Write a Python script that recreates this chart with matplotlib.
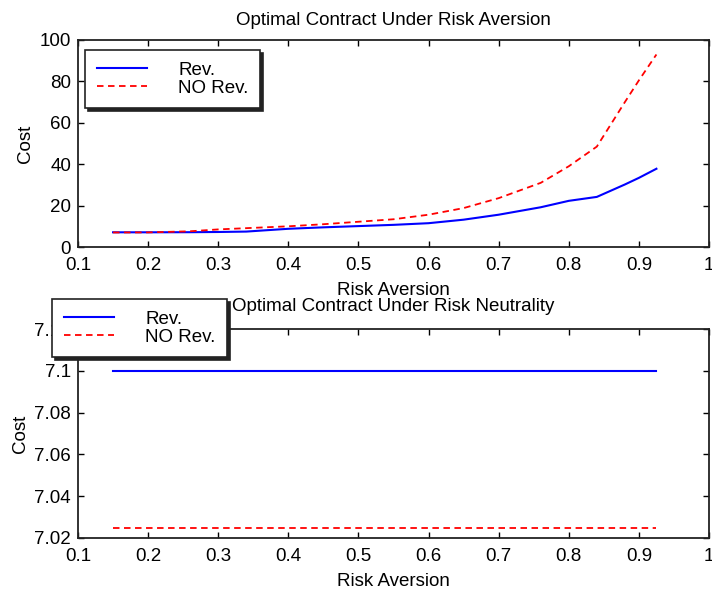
import matplotlib
matplotlib.use('Agg')
import matplotlib.pyplot as plt

plt.rcParams['font.family'] = ['Liberation Sans', 'DejaVu Sans']

# ── Data ──────────────────────────────────────────────────────────────────────
risk_top   = [0.15, 0.20, 0.26, 0.30, 0.34, 0.40, 0.45, 0.50, 0.55, 0.60,
              0.65, 0.70, 0.76, 0.80, 0.84, 0.88, 0.90, 0.925]
rev_top    = [7.10, 7.10, 7.15, 7.25, 7.45, 8.8, 9.5, 10.1, 10.7, 11.5,
              13.2, 15.6, 19.2, 22.3, 24.2, 30.2, 33.4, 37.8]
norev_top  = [7.02, 7.05, 7.6, 8.5, 9.1, 10.0, 11.0, 12.2, 13.4, 15.6,
              18.8, 23.6, 31.0, 39.0, 48.5, 70.0, 80.5, 93.0]

risk_bottom  = [0.15, 0.925]
rev_bottom   = [7.1, 7.1]
norev_bottom = [7.0248, 7.0248]

x_ticks      = [0.1, 0.2, 0.3, 0.4, 0.5, 0.6, 0.7, 0.8, 0.9, 1.0]
x_ticklabels = ['0.1', '0.2', '0.3', '0.4', '0.5', '0.6', '0.7', '0.8', '0.9', '1']
y_ticks_top  = [0, 20, 40, 60, 80, 100]
y_ticks_bot  = [7.02, 7.04, 7.06, 7.08, 7.10, 7.12]
y_ticklabels_bot = ['7.02', '7.04', '7.06', '7.08', '7.1', '7.12']

labels = ['Rev.', 'NO Rev.']

FS = 13.5

fig = plt.figure(figsize=(7.12, 5.93), dpi=100)
ax1 = fig.add_axes([78/712, 1 - 247/593, 631/712, 207/593])
ax2 = fig.add_axes([78/712, 1 - 538/593, 631/712, 209/593])


def style(ax):
    ax.set_xlim(0.1, 1.0)
    ax.set_xticks(x_ticks)
    ax.set_xticklabels(x_ticklabels)
    ax.tick_params(direction='in', length=4, width=1, top=True, right=True,
                   labelsize=FS)
    ax.tick_params(axis='x', pad=7)
    ax.tick_params(axis='y', pad=5)
    for s in ax.spines.values():
        s.set_linewidth(1.3)
        s.set_color('#222222')
    ax.set_xlabel('Risk Aversion', fontsize=FS, labelpad=6)
    ax.set_ylabel('Cost', fontsize=FS, labelpad=4)


def legend(ax, xy):
    leg = ax.legend(labels, loc='upper left', bbox_to_anchor=xy,
                    bbox_transform=fig.transFigure, fontsize=FS,
                    handlelength=2.7, handletextpad=1.65, borderpad=0.62,
                    borderaxespad=0, labelspacing=0.05, fancybox=False,
                    framealpha=1, edgecolor='#222222',
                    shadow={'color': '#222222', 'alpha': 1})
    leg.get_frame().set_linewidth(1.2)
    return leg


# ── Top: risk aversion ────────────────────────────────────────────────────────
ax1.plot(risk_top, rev_top, color='#0000ff', lw=1.5)
ax1.plot(risk_top, norev_top, color='#ff0000', lw=1.3, dashes=(3.6, 2.5))
ax1.set_ylim(0, 100)
ax1.set_yticks(y_ticks_top)
style(ax1)
ax1.set_title('Optimal Contract Under Risk Aversion', fontsize=FS, pad=11)
legend(ax1, (85/712, 1 - 50/593))

# ── Bottom: risk neutrality ───────────────────────────────────────────────────
ax2.plot(risk_bottom, rev_bottom, color='#0000ff', lw=1.5)
ax2.plot(risk_bottom, norev_bottom, color='#ff0000', lw=1.3, dashes=(3.6, 2.5))
ax2.set_ylim(7.02, 7.12)
ax2.set_yticks(y_ticks_bot)
ax2.set_yticklabels(y_ticklabels_bot)
style(ax2)
ax2.set_title('Optimal Contract Under Risk Neutrality', fontsize=FS, pad=13)
legend(ax2, (52/712, 1 - 299/593))

fig.savefig('out.png', dpi=100)
